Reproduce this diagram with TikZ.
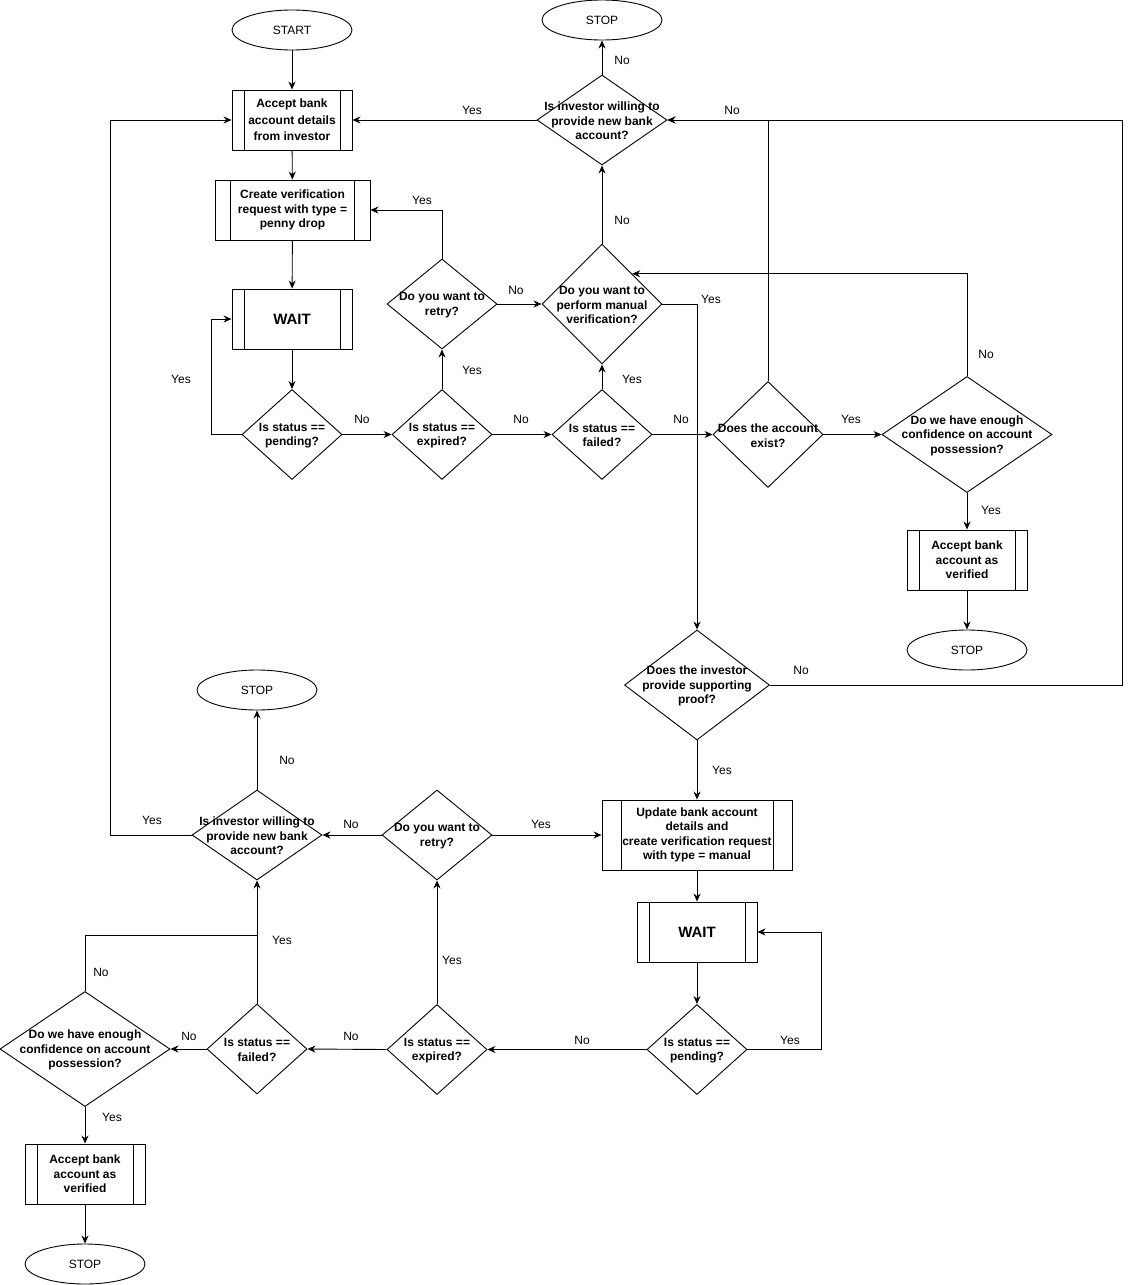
\documentclass[tikz,border=0pt]{standalone}
\usepackage{fontspec}
\setmainfont{Liberation Sans}
\usetikzlibrary{shapes.geometric,arrows.meta}
\tikzset{
  ln/.style={line width=0.9pt},
  proc/.style={draw, rectangle, line width=0.9pt, inner sep=0pt,
    font=\bfseries\fontsize{12}{14.5}\selectfont, align=center,
    path picture={
      \draw[line width=0.9pt] ([xshift=#1]path picture bounding box.north west) -- ([xshift=#1]path picture bounding box.south west);
      \draw[line width=0.9pt] ([xshift=-#1]path picture bounding box.north east) -- ([xshift=-#1]path picture bounding box.south east);}},
  proc/.default=12pt,
  dec/.style={draw, diamond, inner sep=0pt, line width=0.9pt},
  dt/.style={font=\bfseries\fontsize{12}{14.5}\selectfont, align=center, inner sep=0pt, yshift=-1pt},
  term/.style={draw, ellipse, line width=0.9pt, minimum width=120pt, minimum height=40pt, inner sep=0pt,
    font=\fontsize{12}{14}\selectfont},
  arr/.style={-{Stealth[length=8pt,width=7pt]}, line width=0.9pt},
  lbl/.style={font=\fontsize{12}{14}\selectfont, inner sep=0pt, yshift=-1pt}
}
\begin{document}
\begin{tikzpicture}[x=1pt,y=-1pt]
\useasboundingbox (0,0) rectangle (1131,1285);

% ---------- top part ----------
\node[term] (start) at (292,30) {START};
\node[proc, minimum width=120pt, minimum height=60pt, font=\bfseries\fontsize{12}{16.5}\selectfont] (acc1) at (292,120) {Accept bank\\account details\\from investor};
\node[proc=15.5pt, minimum width=155pt, minimum height=60pt] (create) at (292.5,210) {Create verification\\request with type =\\penny drop};
\node[proc, minimum width=120pt, minimum height=60pt, font=\bfseries\fontsize{15}{17}\selectfont] (wait1) at (292,319) {WAIT};
\node[dec, minimum width=100pt, minimum height=90pt, label={[dt]center:{Is status ==\\pending?}}] (pend1) at (292,434.5) {};
\node[dec, minimum width=100pt, minimum height=90pt, label={[dt]center:{Is status ==\\expired?}}] (exp1) at (442,434.5) {};
\node[dec, minimum width=100pt, minimum height=90pt, label={[dt]center:{Is status ==\\failed?}}] (fail1) at (602,434.5) {};
\node[dec, minimum width=110pt, minimum height=90pt, label={[dt]center:{Do you want to\\retry?}}] (retry1) at (442,304) {};
\node[dec, minimum width=120pt, minimum height=120pt, label={[dt]center:{Do you want to\\perform manual\\verification?}}] (man) at (602,304) {};
\node[dec, minimum width=130pt, minimum height=90pt, label={[dt]center:{Is investor willing to\\provide new bank\\account?}}] (will1) at (602,120) {};
\node[term] (stop1) at (602,20) {STOP};
\node[dec, minimum width=110pt, minimum height=106pt, label={[dt]center:{Does the account\\exist?}}] (exist) at (768,434.5) {};
\node[dec, minimum width=170pt, minimum height=116pt, label={[dt]center:{Do we have enough\\confidence on account\\possession?}}] (conf1) at (967,434.5) {};
\node[proc, minimum width=120pt, minimum height=60pt] (acc2) at (967,560) {Accept bank\\account as\\verified};
\node[term] (stop2) at (967,650) {STOP};
\node[dec, minimum width=145pt, minimum height=110pt, label={[dt]center:{Does the investor\\provide supporting\\proof?}}] (proof) at (697,685) {};

% ---------- bottom part ----------
\node[proc=19pt, minimum width=190pt, minimum height=70pt] (upd) at (697,835) {Update bank account\\details and\\create verification request\\with type = manual};
\node[proc, minimum width=120pt, minimum height=60pt, font=\bfseries\fontsize{15}{17}\selectfont] (wait2) at (697,932) {WAIT};
\node[dec, minimum width=100pt, minimum height=90pt, label={[dt]center:{Is status ==\\pending?}}] (pend2) at (697,1049.5) {};
\node[dec, minimum width=100pt, minimum height=90pt, label={[dt]center:{Is status ==\\expired?}}] (exp2) at (437,1049.5) {};
\node[dec, minimum width=110pt, minimum height=90pt, label={[dt]center:{Do you want to\\retry?}}] (retry2) at (437,835) {};
\node[dec, minimum width=130pt, minimum height=90pt, label={[dt]center:{Is investor willing to\\provide new bank\\account?}}] (will2) at (257,835) {};
\node[term] (stop3) at (257,690) {STOP};
\node[dec, minimum width=100pt, minimum height=90pt, label={[dt]center:{Is status ==\\failed?}}] (fail2) at (257,1049) {};
\node[dec, minimum width=170pt, minimum height=115pt, label={[dt]center:{Do we have enough\\confidence on account\\possession?}}] (conf2) at (85,1049) {};
\node[proc, minimum width=120pt, minimum height=60pt] (acc3) at (85,1174) {Accept bank\\account as\\verified};
\node[term] (stop4) at (85,1264) {STOP};

\coordinate (rr) at (1122,685);
\coordinate (j2) at (257,935);

% ---------- connectors top ----------
\draw[arr] (start) -- (acc1);
\draw[arr] (acc1) -- (create);
\draw[arr] (create) -- (wait1);
\draw[arr] (wait1) -- (pend1);
\draw[arr] (pend1.west) -- ++(-30,0) |- (wait1.west) node[lbl] at (181,378) {Yes};
\draw[arr] (pend1.east) -- (exp1.west) node[lbl] at (362,418) {No};
\draw[arr] (exp1.north) -- (retry1.south) node[lbl] at (472,369) {Yes};
\draw[arr] (retry1.north) |- (create.east) node[lbl] at (422,199) {Yes};
\draw[arr] (retry1.east) -- (man.west) node[lbl] at (516,289) {No};
\draw[arr] (exp1.east) -- (fail1.west) node[lbl] at (521,418) {No};
\draw[arr] (fail1.north) -- (man.south) node[lbl] at (632,378) {Yes};
\draw[arr] (fail1.east) -- (exist.west) node[lbl] at (681,418) {No};
\draw[arr] (man.north) -- (will1.south) node[lbl] at (622,219) {No};
\draw[arr] (will1.north) -- (stop1.south) node[lbl] at (622,59) {No};
\draw[arr] (will1.west) -- (acc1.east) node[lbl] at (472,109) {Yes};
\draw[arr] (man.east) -| (proof.north) node[lbl] at (711,298) {Yes};
\draw[arr] (exist.north) |- (will1.east) node[lbl] at (732,109) {No};
\draw[arr] (exist.east) -- (conf1.west) node[lbl] at (851,418) {Yes};
\draw[arr] (conf1.north) |- (man.north east) node[lbl] at (986,353) {No};
\draw[arr] (conf1.south) -- (acc2.north) node[lbl] at (991,509) {Yes};
\draw[arr] (acc2) -- (stop2);
\draw[arr] (proof.east) -- (rr) |- (will1.east) node[lbl] at (801,669) {No};
\draw[arr] (proof.south) -- (upd.north) node[lbl] at (722,769) {Yes};

% ---------- connectors bottom ----------
\draw[arr] (upd) -- (wait2);
\draw[arr] (wait2) -- (pend2);
\draw[arr] (pend2.east) -- ++(74,0) |- (wait2.east) node[lbl] at (790,1039) {Yes};
\draw[arr] (pend2.west) -- (exp2.east) node[lbl] at (582,1039) {No};
\draw[arr] (exp2.north) -- (retry2.south) node[lbl] at (452,959) {Yes};
\draw[arr] (retry2.east) -- (upd.west) node[lbl] at (541,823) {Yes};
\draw[arr] (retry2.west) -- (will2.east) node[lbl] at (351,823) {No};
\draw[arr] (will2.north) -- (stop3.south) node[lbl] at (287,759) {No};
\draw[arr] (will2.west) -- ++(-81,0) |- (acc1.west) node[lbl] at (152,819) {Yes};
\draw[arr] (exp2.west) -- (fail2.east) node[lbl] at (351,1035) {No};
\draw[arr] (fail2.north) -- (will2.south) node[lbl] at (282,939) {Yes};
\draw[ln] (conf2.north) |- (j2) node[lbl] at (101,971) {No};
\draw[arr] (fail2.west) -- (conf2.east) node[lbl] at (189,1035) {No};
\draw[arr] (conf2.south) -- (acc3.north) node[lbl] at (112,1116) {Yes};
\draw[arr] (acc3) -- (stop4);
\end{tikzpicture}
\end{document}
